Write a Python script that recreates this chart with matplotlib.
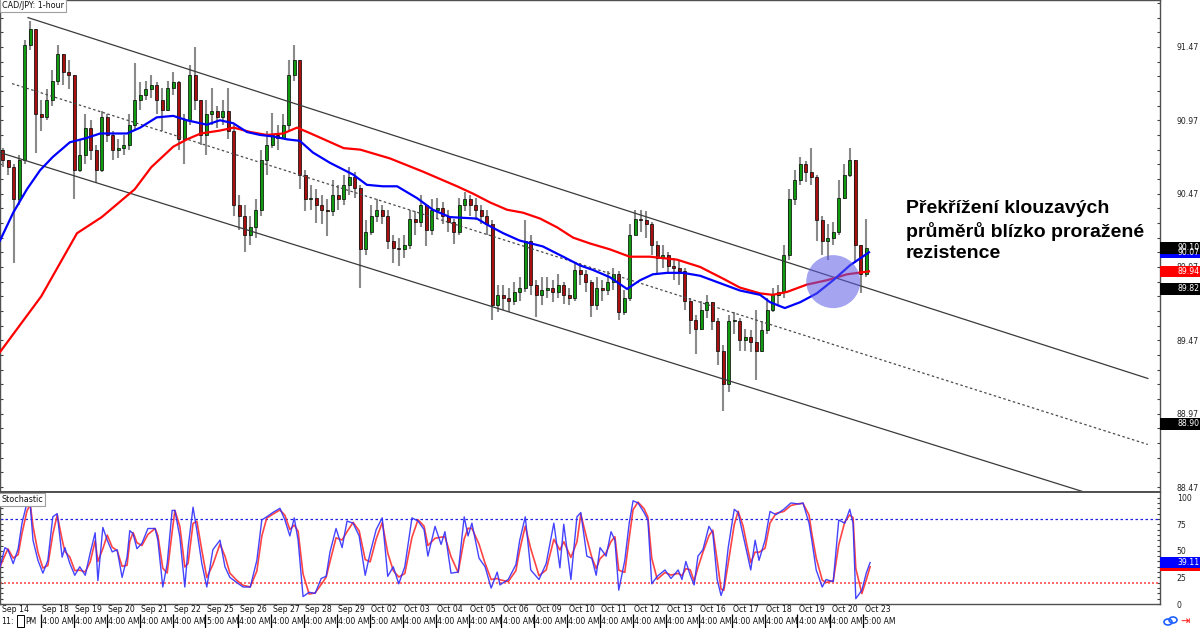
import numpy as np
import matplotlib
matplotlib.use("Agg")
import matplotlib.pyplot as plt
from matplotlib.patches import Rectangle, Ellipse
from matplotlib.transforms import blended_transform_factory as btf

plt.rcParams['font.family'] = ['DejaVu Sans']

# ---------------- data (4-hour candles) ----------------
first_open = 90.77
closes = [90.70,90.65,90.43,90.70,91.48,91.59,91.01,90.99,91.11,91.24,
          91.42,91.30,91.28,90.63,90.73,90.92,90.77,90.63,90.99,90.87,
          90.77,90.78,90.80,90.94,91.11,91.14,91.18,91.21,91.11,91.04,
          91.19,91.23,90.84,90.97,91.28,91.11,90.87,91.01,91.03,90.99,
          91.03,90.90,90.39,90.32,90.19,90.24,90.36,90.70,90.80,90.87,
          90.85,90.94,91.28,91.38,90.60,90.43,90.44,90.39,90.36,90.35,
          90.46,90.43,90.53,90.58,90.51,90.09,90.21,90.32,90.36,90.32,
          90.15,90.10,90.09,90.12,90.30,90.28,90.39,90.22,90.36,90.37,
          90.32,90.28,90.21,90.39,90.43,90.39,90.36,90.32,90.26,89.71,
          89.78,89.76,89.74,89.80,89.83,90.15,89.85,89.78,89.81,89.83,
          89.80,89.85,89.78,89.76,89.95,89.92,89.87,89.71,89.83,89.81,
          89.87,89.92,89.66,89.76,90.19,90.30,90.29,90.26,90.12,90.03,
          90.05,89.98,89.96,89.94,89.74,89.61,89.55,89.68,89.73,89.60,
          89.40,89.17,89.60,89.60,89.47,89.49,89.46,89.40,89.54,89.68,
          89.78,89.80,90.05,90.43,90.56,90.67,90.62,90.58,90.29,90.15,
          90.17,90.21,90.44,90.60,90.70,90.12,89.92,90.10]
highs = [90.78,90.70,90.67,90.73,91.52,91.65,91.59,91.11,91.18,91.31,
         91.48,91.42,91.38,91.28,90.84,91.01,90.97,90.80,91.03,91.01,
         90.90,90.84,90.87,91.01,91.36,91.23,91.24,91.28,91.23,91.19,
         91.24,91.30,91.24,91.01,91.35,91.47,91.11,91.11,91.19,91.07,
         91.11,91.19,90.94,90.46,90.39,90.32,90.43,90.77,90.90,91.02,
         90.94,91.01,91.38,91.48,91.35,90.63,90.53,90.50,90.46,90.43,
         90.56,90.53,90.60,90.65,90.62,90.53,90.29,90.39,90.43,90.39,
         90.36,90.19,90.17,90.19,90.36,90.35,90.46,90.39,90.43,90.44,
         90.41,90.36,90.30,90.44,90.48,90.46,90.44,90.39,90.36,90.29,
         89.85,89.85,89.83,89.87,89.90,90.29,90.19,89.88,89.90,89.90,
         89.88,89.92,89.87,89.83,90.00,90.00,89.95,89.88,89.90,89.88,
         89.94,89.96,89.94,89.81,90.26,90.36,90.36,90.35,90.28,90.15,
         90.12,90.07,90.03,90.02,89.96,89.76,89.64,89.74,89.78,89.71,
         89.62,89.44,89.64,89.66,89.62,89.55,89.54,89.68,89.60,89.76,
         89.83,89.85,90.12,90.50,90.63,90.72,90.69,90.78,90.60,90.32,
         90.26,90.28,90.56,90.67,90.78,90.70,90.05,90.30]
lows = [90.65,90.60,90.00,90.39,90.67,91.45,90.75,90.90,90.97,91.07,
        91.21,91.21,91.18,90.43,90.62,90.67,90.70,90.54,90.62,90.82,
        90.70,90.71,90.73,90.77,90.90,91.04,91.11,91.12,91.01,90.90,
        91.03,91.14,90.77,90.67,90.94,91.04,90.80,90.73,90.94,90.92,
        90.94,90.84,90.32,90.22,90.07,90.12,90.17,90.32,90.60,90.78,
        90.77,90.84,90.90,91.24,90.50,90.35,90.36,90.27,90.26,90.18,
        90.32,90.36,90.39,90.46,90.44,89.83,90.05,90.19,90.28,90.26,
        90.09,90.00,89.98,90.03,90.09,90.19,90.24,90.11,90.19,90.30,
        90.26,90.21,90.13,90.19,90.35,90.32,90.29,90.26,90.19,89.61,
        89.66,89.68,89.66,89.71,89.74,89.80,89.78,89.63,89.71,89.76,
        89.73,89.76,89.72,89.71,89.74,89.85,89.80,89.63,89.68,89.74,
        89.78,89.81,89.61,89.64,89.74,90.19,90.21,90.17,90.05,89.93,
        89.96,89.92,89.88,89.85,89.68,89.51,89.38,89.54,89.62,89.54,
        89.30,88.99,89.12,89.51,89.40,89.40,89.39,89.20,89.39,89.51,
        89.66,89.71,89.76,90.02,90.39,90.53,90.55,90.53,90.15,90.05,
        90.02,90.12,90.19,90.43,90.58,90.00,89.79,89.90]

# moving averages (bar index, price)
ma_slow_idx = [-0.5,7,13.5,18,24,27,31,33.5,36,39.5,42,45,48,51,53.5,56,62,65,70.4,76.4,
               82.6,85.5,88.6,91.7,94.6,97.7,100.8,103.7,106.8,110.4,114,117.7,122.6,126.8,131,
               134,137.7,140,142.6,146.2,149.9,153.5,157.5]
ma_slow = [89.39,89.77,90.20,90.31,90.50,90.65,90.79,90.84,90.88,90.90,90.92,90.89,90.87,90.88,90.92,
           90.88,90.78,90.77,90.71,90.62,90.52,90.47,90.41,90.36,90.34,90.30,90.24,90.17,90.13,90.09,
           90.04,90.04,90.02,89.97,89.89,89.83,89.79,89.78,89.80,89.85,89.88,89.92,89.94]
ma_fast_idx = [-0.5,1.9,4.4,6.8,9.1,12.2,15.3,17.7,22.6,25,28,31,33.5,37.1,39.5,41.9,44.4,46.8,49.1,51.7,
               54,56.4,59.5,63.7,66.2,69.1,71.7,75.3,78.2,81.3,86.2,88,91,94,98.2,101.9,105,107.3,110.4,113.5,
               115.9,118.2,120.8,123.7,126.8,130.4,134,137.7,139.5,142.2,145,148,151,154,157.5]
ma_fast = [90.15,90.34,90.50,90.63,90.72,90.82,90.85,90.88,90.88,90.92,90.99,91.00,90.97,90.94,90.97,
           90.95,90.89,90.87,90.86,90.84,90.83,90.75,90.68,90.60,90.53,90.52,90.52,90.44,90.36,90.31,
           90.30,90.26,90.20,90.15,90.11,90.04,89.98,89.95,89.90,89.82,89.88,89.92,89.93,89.93,89.91,
           89.86,89.81,89.78,89.73,89.69,89.73,89.79,89.88,89.98,90.07]

# channel lines (bar index, price)
ch_upper_idx, ch_upper = [4.6, 208.2], [91.67, 89.21]
ch_mid_idx, ch_mid = [1.7, 208.2], [91.22, 88.76]
ch_lower_idx, ch_lower = [-0.5, 208.2], [90.75, 88.30]

# stochastic %K (bar index, value)
stoch_idx = [-0.5,0.4,0.95,1.9,2.8,3.5,4.4,5.0,5.5,6.4,7.3,8.2,9.1,9.9,10.8,11.3,12.2,13.1,14.0,15.0,
             15.9,16.8,17.3,18.2,19.0,19.9,20.8,21.7,22.6,23.1,23.7,24.4,25.3,26.4,27.7,28.2,29.1,29.9,30.8,31.3,
             32.2,33.1,33.7,34.6,35.3,36.2,37.1,38.2,39.5,40.4,41.3,42.6,43.7,45.0,46.2,47.1,48.0,49.1,50.4,51.3,
             52.2,53.0,53.7,54.6,55.7,56.8,57.9,58.8,59.5,60.6,61.7,62.6,63.7,64.8,65.9,66.8,67.9,69.0,70.0,71.0,
             72.0,73.1,74.4,75.5,76.6,77.3,78.6,79.7,80.4,81.5,82.8,83.9,84.6,85.3,86.6,87.7,88.8,89.9,90.4,91.9,
             93.3,94.0,95.0,96.0,97.5,98.8,100.2,101.3,102.0,103.3,104.4,105.1,106.2,107.1,107.9,108.6,109.7,110.6,111.3,112.0,
             113.1,113.9,114.6,115.5,116.6,117.3,118.0,119.0,120.4,121.5,122.8,123.5,124.2,125.0,125.7,126.4,127.3,128.4,129.1,129.9,
             130.6,131.1,131.9,133.0,133.7,134.6,135.3,136.0,136.8,137.5,138.6,139.5,140.6,142.0,143.3,144.8,145.5,146.6,147.1,147.9,
             149.0,149.7,151.0,152.0,153.1,154.0,154.6,155.1,156.2,157.0,157.7]
stoch_k = [35,53,51,38,52,76,95,93,60,41,29,41,82,85,44,53,38,27,35,27,
           48,67,22,72,60,49,51,25,44,69,66,52,57,71,71,60,16,38,88,88,
           63,16,53,91,69,38,16,51,60,35,25,20,16,16,41,79,82,86,90,79,
           64,81,60,7,11,10,24,26,49,71,53,78,76,64,27,48,70,81,26,35,
           19,35,81,78,70,45,73,56,68,29,30,82,64,76,43,35,15,30,18,23,
           37,60,82,32,23,38,76,34,75,23,82,86,45,43,27,53,45,68,60,13,
           41,76,97,95,86,79,19,26,32,24,32,23,40,27,18,45,51,73,67,23,
           8,16,53,89,86,65,49,32,60,41,60,87,84,89,95,94,95,76,60,32,
           16,23,21,79,76,89,76,5,13,29,39]

day_labels = ["Sep 18","Sep 19","Sep 20","Sep 21","Sep 22","Sep 25","Sep 26","Sep 27","Sep 28",
              "Sep 29","Oct 02","Oct 03","Oct 04","Oct 05","Oct 06","Oct 09","Oct 10","Oct 11",
              "Oct 12","Oct 13","Oct 16","Oct 17","Oct 18","Oct 19","Oct 20","Oct 23"]
time_labels = ["4:00 AM"]*5 + ["5:00 AM"] + ["4:00 AM"]*4 + ["5:00 AM"] + ["4:00 AM"]*14 + ["5:00 AM"]
price_ticks = [88.47, 88.97, 89.47, 89.97, 90.47, 90.97, 91.47]
stoch_ticks = [0, 25, 50, 75, 100]

last_price, fast_last, slow_last = 90.10, 90.07, 89.94
upper_ch_last, lower_ch_last = 89.82, 88.90
stoch_k_last, stoch_d_last = 39.11, 36.1

annotation = "Překřížení klouzavých\nprůměrů blízko proražené\nrezistence"

# ---------------- figure ----------------
W, H = 1200, 628
fig = plt.figure(figsize=(12, 6.28), dpi=100)
fig.patch.set_facecolor('white')

def fx(px): return px / W
def fy(py): return 1 - py / H

PW = 1160
ax = fig.add_axes([0, fy(492), fx(PW), 492 / H])
ax2 = fig.add_axes([0, fy(604), fx(PW), 112 / H])

XL = (-0.5, PW / 5.5 - 0.5)
ax.set_xlim(*XL)
ax2.set_xlim(*XL)
ax.set_ylim(88.436, 91.79)
ax2.set_ylim(0, 105.3)

# candles
n = len(closes)
x = np.arange(n)
c = np.array(closes)
o = np.array([first_open] + closes[:-1])
hi = np.maximum(np.array(highs), np.maximum(o, c))
lo = np.minimum(np.array(lows), np.minimum(o, c))
ax.vlines(x, lo, hi, color='#8a8a8a', lw=1.5, zorder=2)
up = c >= o
bb = np.minimum(o, c)
bh = np.maximum(np.abs(c - o), 0.007)
ax.bar(x[up], bh[up], bottom=bb[up], width=0.5, color='#0f9a0f', edgecolor='black', linewidth=0.5, zorder=3)
ax.bar(x[~up], bh[~up], bottom=bb[~up], width=0.5, color='#a81010', edgecolor='black', linewidth=0.5, zorder=3)

# channel
ax.plot(ch_upper_idx, ch_upper, color='#3a3a3a', lw=0.9, zorder=4)
ax.plot(ch_mid_idx, ch_mid, color='#4a4a4a', lw=0.9, ls=(0, (2, 2)), zorder=4)
ax.plot(ch_lower_idx, ch_lower, color='#3a3a3a', lw=0.9, zorder=4)

# moving averages
ax.plot(ma_slow_idx, ma_slow, color='#ff0000', lw=1.6, zorder=5, solid_joinstyle='round')
ax.plot(ma_fast_idx, ma_fast, color='#0000ff', lw=1.6, zorder=5, solid_joinstyle='round')

# highlight circle
ax.add_patch(Ellipse((151.0, 89.87), width=54 / 5.5, height=53 / 146.67,
                     facecolor='#5a5ae6', edgecolor='none', alpha=0.55, zorder=6))

ax.text(906 / PW, 1 - 200 / 492, annotation, transform=ax.transAxes, ha='left', va='top',
        fontsize=14, fontweight='bold', family=['Liberation Sans', 'DejaVu Sans'],
        linespacing=1.33, color='black', zorder=7)

ax.text(0.0015, 0.998, "CAD/JPY: 1-hour", transform=ax.transAxes, ha='left', va='top',
        fontsize=5.8, color='#111111', zorder=8,
        bbox=dict(boxstyle='square,pad=0.25', fc='white', ec='#a0a0a0', lw=0.8))

# axes styling
for a in (ax, ax2):
    a.set_xticks([])
    for s in a.spines.values():
        s.set_color('#505050')
        s.set_linewidth(1.0)
    a.tick_params(axis='y', which='both', left=True, right=True, direction='in',
                  labelleft=False, labelright=True, colors='#404040', labelcolor='#222222',
                  labelsize=5.6, length=2.4, width=0.8, pad=12.0)
ax.spines['bottom'].set_linewidth(1.4)
ax2.spines['top'].set_linewidth(1.4)

ax.set_yticks(price_ticks)
ax.set_yticklabels([f"{v:.2f}" for v in price_ticks])
ax.set_yticks(np.round(np.arange(88.47, 91.79, 0.1), 2), minor=True)
ax2.set_yticks(stoch_ticks)
ax2.set_yticklabels([str(v) for v in stoch_ticks])
ax2.set_yticks(np.arange(0, 101, 5), minor=True)

# right-side value boxes
def value_box(a, val, fc, tc, half_px, ppu, label=True, clip_below=None):
    tr = btf(a.transAxes, a.transData)
    h = half_px / ppu
    a.add_patch(Rectangle((1.0, val - h), 40 / PW, 2 * h, transform=tr, clip_on=False,
                          facecolor=fc, edgecolor='none', zorder=20))
    if label:
        t = a.text(1.0 + 17.5 / PW, val, f"{val:.2f}", transform=tr, ha='left', va='center',
                   fontsize=5.6, color=tc, zorder=21)
        if clip_below is not None:
            clip = Rectangle((1.0, val - h), 40 / PW, clip_below - (val - h), transform=tr,
                             facecolor='none', edgecolor='none')
            t.set_clip_path(clip)
        else:
            t.set_clip_on(False)

PPU = 146.67
value_box(ax, fast_last, '#0000ff', 'white', 5.5, PPU,
          clip_below=last_price - 5.8 / PPU)
value_box(ax, last_price, 'black', 'white', 5.8, PPU)
value_box(ax, slow_last, '#ff0000', 'white', 5.8, PPU)
value_box(ax, upper_ch_last, 'black', 'white', 5.8, PPU)
value_box(ax, lower_ch_last, 'black', 'white', 5.8, PPU)

# stochastic
k = np.array(stoch_k, dtype=float)
d = np.concatenate([[k[0]], 0.6 * k[1:] + 0.4 * k[:-1]])
ax2.axhline(80, color='#2020e0', lw=0.9, ls=(0, (2, 2)), zorder=2)
ax2.axhline(20, color='#ff5050', lw=1.2, ls=(0, (1.2, 1.2)), zorder=2)
ax2.plot(stoch_idx, d, color='#ff3030', lw=1.2, alpha=0.9, zorder=3)
ax2.plot(stoch_idx, k, color='#3030ff', lw=1.0, alpha=0.9, zorder=4)
ax2.text(0.001, 0.975, "Stochastic", transform=ax2.transAxes, ha='left', va='top',
         fontsize=5.8, color='#111111', zorder=8,
         bbox=dict(boxstyle='square,pad=0.25', fc='white', ec='#a0a0a0', lw=0.8))
value_box(ax2, stoch_d_last, '#ff0000', 'white', 5.5, 1.067, label=False)
value_box(ax2, stoch_k_last, '#0000ff', 'white', 5.5, 1.067)

# date row and time row
day_idx = [6.95 + 5.98 * j for j in range(len(day_labels))]
trd = btf(ax2.transData, fig.transFigure)
fig.text(0.0015, fy(609), "Sep 14", ha='left', va='center', fontsize=5.6, color='#111111')
for xi, lab in zip(day_idx, day_labels):
    fig.text(xi + 0.25, fy(609), lab, transform=trd, ha='left', va='center', fontsize=5.6,
             color='#111111')

axt = fig.add_axes([0, 0, fx(PW), 14 / H])
axt.set_xlim(*XL)
axt.set_ylim(0, 1)
axt.axis('off')
axt.vlines(day_idx, 0, 1, color='black', lw=0.9)
axt.text(-0.35, 0.45, "11:", ha='left', va='center', fontsize=5.6, color='#111111')
axt.add_patch(Rectangle((2.5, 0.1), 1.3, 0.8, facecolor='white', edgecolor='black', lw=0.7))
axt.text(4.1, 0.45, "PM", ha='left', va='center', fontsize=5.6, color='#111111')
for xi, lab in zip(day_idx, time_labels):
    axt.text(xi + 0.2, 0.45, lab, ha='left', va='center', fontsize=5.6, color='#111111')

# small icons bottom-right
fig.patches.append(Ellipse((fx(1168), fy(622)), fx(8), 6 / H, angle=0, transform=fig.transFigure,
                           facecolor='none', edgecolor='#2060ff', lw=1.2))
fig.patches.append(Ellipse((fx(1173), fy(620)), fx(8), 6 / H, angle=0, transform=fig.transFigure,
                           facecolor='none', edgecolor='#2060ff', lw=1.2))
fig.text(fx(1180), fy(621), "⇥", ha='left', va='center', fontsize=8, color='#ff1010')

fig.savefig("out.png", dpi=100, facecolor='white')
